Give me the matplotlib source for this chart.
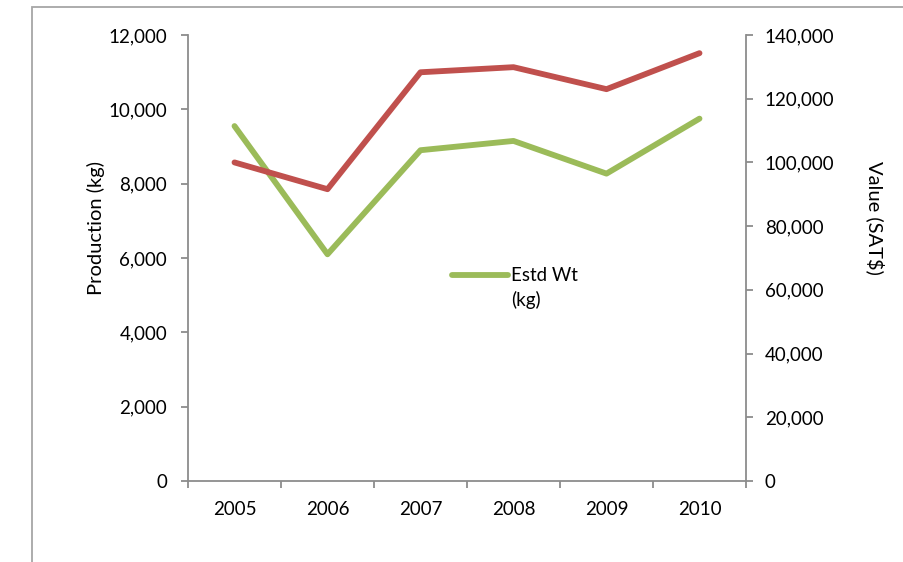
import numpy as np
import matplotlib
matplotlib.use("Agg")
import matplotlib.pyplot as plt
from matplotlib.ticker import FuncFormatter, FixedLocator
from matplotlib.patches import Rectangle
from matplotlib.legend_handler import HandlerLine2D

plt.rcParams['font.family'] = ['Lato', 'DejaVu Sans']

years = ['2005', '2006', '2007', '2008', '2009', '2010']
estd_wt = [9550, 6100, 8900, 9150, 8270, 9750]            # kg, left axis
value = [100000, 91600, 128300, 129900, 123000, 134300]    # SAT$, right axis

GREEN = '#9BBB59'
RED = '#C0504D'
AXIS = '#8C8C8C'
FS = 13.5


class FirstLineHandler(HandlerLine2D):
    # lift the legend line up to the first line of a two-line label
    def create_artists(self, legend, orig_handle, xdescent, ydescent,
                       width, height, fontsize, trans):
        arts = super().create_artists(legend, orig_handle, xdescent, ydescent,
                                      width, height, fontsize, trans)
        for a in arts:
            a.set_ydata(np.asarray(a.get_ydata()) + fontsize * 0.7)
        return arts


fig = plt.figure(figsize=(9.04, 5.62), dpi=100)
fig.add_artist(Rectangle((32 / 904, -0.1), 1.0, 0.1 + 1 - 7 / 562,
                         transform=fig.transFigure, fill=False,
                         edgecolor='#A6A6A6', lw=1.3))

ax = fig.add_axes([188 / 904, 1 - 481 / 562, 558 / 904, 446 / 562])
ax2 = ax.twinx()

x = np.arange(len(years))
g, = ax.plot(x, estd_wt, color=GREEN, lw=4.2, solid_capstyle='round',
             solid_joinstyle='round', label='Estd Wt\n(kg)')
ax2.plot(x, value, color=RED, lw=4.2, solid_capstyle='round',
         solid_joinstyle='round')

ax.set_xlim(-0.5, len(years) - 0.5)
ax.set_ylim(0, 12000)
ax.set_yticks(np.arange(0, 12001, 2000))
ax2.set_ylim(0, 140000)
ax2.set_yticks(np.arange(0, 140001, 20000))

fmt = FuncFormatter(lambda v, p: f'{v:,.0f}')
ax.yaxis.set_major_formatter(fmt)
ax2.yaxis.set_major_formatter(fmt)

# category labels between boundary ticks
ax.xaxis.set_major_locator(FixedLocator(np.arange(-0.5, len(years), 1.0)))
ax.xaxis.set_minor_locator(FixedLocator(x))
ax.set_xticklabels([])
ax.set_xticklabels(years, minor=True)
ax.tick_params(axis='x', which='major', length=5, width=1.3, color=AXIS, direction='out')
ax.tick_params(axis='x', which='minor', length=0, pad=14.5, labelsize=FS)

ax.tick_params(axis='y', length=5, width=1.3, color=AXIS, pad=10, labelsize=FS)
ax2.tick_params(axis='y', length=5, width=1.3, color=AXIS, pad=8.5, labelsize=FS)

for s in ['top', 'right']:
    ax.spines[s].set_visible(False)
for s in ['top', 'left', 'bottom']:
    ax2.spines[s].set_visible(False)
for s in [ax.spines['left'], ax.spines['bottom'], ax2.spines['right']]:
    s.set_color(AXIS)
    s.set_linewidth(1.3)

ax.set_ylabel('Production (kg)', fontsize=14.5, va='center')
ax.yaxis.set_label_coords(-0.165, 0.567)
ax2.set_ylabel(r'Value (SAT\$)', fontsize=14.5, rotation=270, va='center')
ax2.yaxis.set_label_coords(1.231, 0.59)

leg = ax2.legend(handles=[g], loc='upper left', bbox_to_anchor=(0.46, 0.497),
                 frameon=False, fontsize=FS, handlelength=3.0,
                 handletextpad=0.15, borderaxespad=0,
                 handler_map={g: FirstLineHandler()})
leg.get_texts()[0].set_linespacing(1.45)

fig.savefig('out.png', dpi=100)
